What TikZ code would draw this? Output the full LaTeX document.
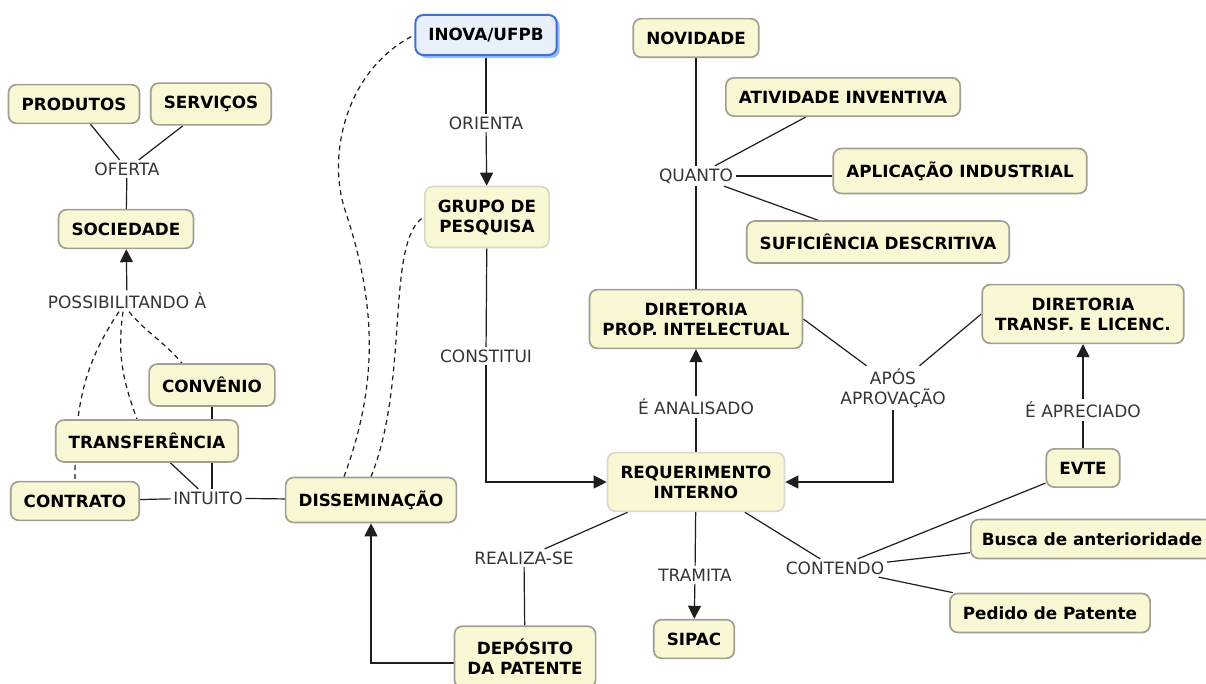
\documentclass[tikz,border=0pt]{standalone}
\usepackage{fontspec}
\setmainfont{DejaVu Sans}
\usetikzlibrary{arrows.meta,backgrounds,shadows}
\definecolor{conceptfill}{RGB}{250,247,212}
\definecolor{conceptline}{RGB}{160,160,145}
\definecolor{paleline}{RGB}{218,216,198}
\definecolor{inovafill}{RGB}{231,240,251}
\definecolor{inovaline}{RGB}{66,110,215}
\definecolor{inovashadow}{RGB}{150,190,245}
\definecolor{linkcol}{RGB}{30,30,30}

\begin{document}
\begin{tikzpicture}[x=1pt,y=-1pt,
  concept/.style={draw=conceptline,fill=conceptfill,line width=1.7pt,rounded corners=8pt,
    inner xsep=13pt,inner ysep=13pt,align=center,font=\fontsize{16.8}{20}\selectfont\bfseries},
  pale/.style={concept,draw=paleline},
  inova/.style={concept,draw=inovaline,fill=inovafill,line width=2pt,
    drop shadow={shadow xshift=3pt,shadow yshift=-3pt,fill=inovashadow,opacity=1}},
  phrase/.style={inner sep=2.5pt,align=center,text=linkcol!90,font=\fontsize{17}{20}\selectfont},
  link/.style={draw=linkcol,line width=1.2pt},
  arr/.style={link,-{Triangle[length=13pt,width=13pt]}},
  dotlink/.style={link,dash pattern=on 5pt off 4pt}]
\useasboundingbox (0,0) rectangle (1206,684);

% conceitos
\node[inova] (inova) at (486,35) {INOVA/UFPB};
\node[concept] (novid) at (696,38) {NOVIDADE};
\node[concept] (prod) at (74,104) {PRODUTOS};
\node[concept] (serv) at (211,104) {SERVIÇOS};
\node[concept] (ativ) at (843,97) {ATIVIDADE INVENTIVA};
\node[concept] (aplic) at (960,171) {APLICAÇÃO INDUSTRIAL};
\node[concept] (sufic) at (878,242) {SUFICIÊNCIA DESCRITIVA};
\node[concept] (soc) at (126,229) {SOCIEDADE};
\node[pale] (grupo) at (487,217) {GRUPO DE\\PESQUISA};
\node[concept] (dprop) at (696,319) {DIRETORIA\\PROP. INTELECTUAL};
\node[concept] (dtransf) at (1083,314) {DIRETORIA\\TRANSF. E LICENC.};
\node[concept] (conv) at (212,385) {CONVÊNIO};
\node[concept] (transf) at (147,441) {TRANSFERÊNCIA};
\node[pale] (req) at (696,482) {REQUERIMENTO\\INTERNO};
\node[concept] (evte) at (1083,468) {EVTE};
\node[concept] (contr) at (75,501) {CONTRATO};
\node[concept] (diss) at (371,500) {DISSEMINAÇÃO};
\node[concept,anchor=west,inner xsep=11pt] (busca) at (970,539) {Busca de anterioridade};
\node[concept] (pedido) at (1050,613) {Pedido de Patente};
\node[concept] (sipac) at (694,639) {SIPAC};
\node[concept] (dep) at (525,657) {DEPÓSITO\\DA PATENTE};

% frases de ligacao
\node[phrase] (oferta) at (127,169) {OFERTA};
\node[phrase] (possib) at (127,301) {POSSIBILITANDO À};
\node[phrase] (orienta) at (486,123) {ORIENTA};
\node[phrase] (quanto) at (696,176) {QUANTO};
\node[phrase] (constit) at (486,356) {CONSTITUI};
\node[phrase] (apos) at (893,388) {APÓS\\APROVAÇÃO};
\node[phrase] (analis) at (696,407) {É ANALISADO};
\node[phrase] (aprec) at (1083,410) {É APRECIADO};
\node[phrase] (intuito) at (208,498) {INTUITO};
\node[phrase] (realiza) at (524,558) {REALIZA-SE};
\node[phrase] (tramita) at (695,575) {TRAMITA};
\node[phrase] (contendo) at (835,568) {CONTENDO};

\begin{scope}[on background layer]
\fill[white] (0,0) rectangle (1206,684);
\draw[link] (prod) -- (oferta);
\draw[link] (serv) -- (oferta);
\draw[link] (oferta) -- (soc);
\draw[arr] (possib) -- (soc);
\draw[dotlink] ([xshift=-8pt]possib.south) to[out=236,in=90] (contr.north);
\draw[dotlink] ([xshift=-4pt]possib.south) to[out=262,in=110] ([xshift=-10pt]transf.north);
\draw[dotlink] ([xshift=2pt]possib.south) to[out=310,in=130] ([xshift=-30pt]conv.north);
\draw[link] (conv) -- (conv |- intuito.north);
\draw[link] (transf) -- (intuito);
\draw[link] (contr) -- (intuito);
\draw[link] (intuito) -- (diss);
\draw[dotlink] ([xshift=-27pt]diss.north) .. controls (380,380) and (375,300) .. (345,210)
  .. controls (327,156) and (345,70) .. (inova.west);
\draw[dotlink] (diss.north) .. controls (410,380) and (385,240) .. (grupo.west);
\draw[arr] ([yshift=-6pt]dep.west) -| (diss.south);
\draw[link] (dep) -- (realiza);
\draw[link] (realiza) -- (req);
\draw[link] (inova) -- (orienta);
\draw[arr] (orienta) -- (grupo);
\draw[link] (grupo) -- (constit);
\draw[arr] (constit) |- (req);
\draw[link] (req) -- (analis);
\draw[arr] (analis) -- (dprop);
\draw[link] (dprop) -- (quanto);
\draw[link] (novid) -- (quanto);
\draw[link] (quanto) -- (ativ);
\draw[link] (quanto.east) -- (quanto.east -| aplic.west);
\draw[link] (quanto) -- (sufic);
\draw[link] (dprop.east) -- (apos.140);
\draw[link] (dtransf.west) -- (apos.40);
\draw[arr] (apos) |- (req);
\draw[link] (evte) -- (aprec);
\draw[arr] (aprec) -- (dtransf);
\draw[link] (req) -- (tramita);
\draw[arr] (tramita) -- (sipac);
\draw[link] (req) -- (contendo);
\draw[link] (contendo) -- (evte);
\draw[link] (contendo) -- (busca);
\draw[link] (contendo) -- (pedido);
\end{scope}
\end{tikzpicture}
\end{document}
